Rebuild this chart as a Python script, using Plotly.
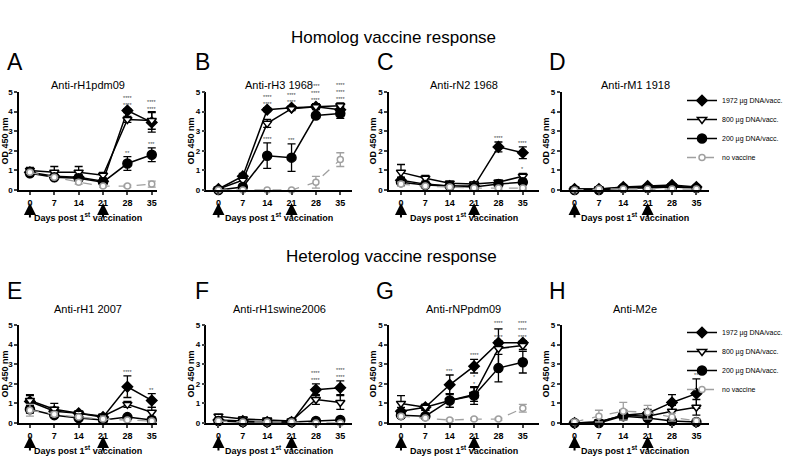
import plotly.graph_objects as go

days = [0, 7, 14, 21, 28, 35]
groups = ['1972 µg DNA/vacc.', '800 µg DNA/vacc.', '200 µg DNA/vacc.', 'no vaccine']
letters = ['A', 'B', 'C', 'D', 'E', 'F', 'G', 'H']
titles = ['Anti-rH1pdm09', 'Anti-rH3 1968', 'Anti-rN2 1968', 'Anti-rM1 1918',
          'Anti-rH1 2007', 'Anti-rH1swine2006', 'Anti-rNPpdm09', 'Anti-M2e']

# mean OD per group: 1972, 800, 200, no vaccine
rh1pdm09 = [[0.9, 0.7, 0.65, 0.45, 4.05, 3.45],
            [1.0, 0.9, 0.9, 0.75, 3.6, 3.55],
            [0.85, 0.65, 0.6, 0.4, 1.35, 1.8],
            [0.9, 0.65, 0.4, 0.2, 0.2, 0.3]]
rh1pdm09_err = [[0.15, 0.1, 0.15, 0.15, 0.1, 0.5],
                [0.15, 0.3, 0.3, 0.15, 0.15, 0.45],
                [0.15, 0.1, 0.15, 0.1, 0.35, 0.35],
                [0.05, 0.05, 0.1, 0.05, 0.05, 0.15]]

rh3 = [[0.05, 0.7, 4.1, 4.2, 4.25, 4.1],
       [0.05, 0.5, 3.4, 4.15, 4.25, 4.3],
       [0.0, 0.15, 1.75, 1.65, 3.8, 3.9],
       [0.0, 0.0, 0.0, 0.0, 0.4, 1.55]]
rh3_err = [[0.02, 0.15, 0.1, 0.1, 0.1, 0.15],
           [0.02, 0.2, 0.2, 0.1, 0.15, 0.15],
           [0.02, 0.1, 0.65, 0.7, 0.15, 0.25],
           [0.0, 0.0, 0.0, 0.0, 0.3, 0.35]]

rn2 = [[0.5, 0.3, 0.2, 0.2, 2.2, 1.9],
       [0.9, 0.6, 0.35, 0.3, 0.4, 0.7],
       [0.4, 0.25, 0.2, 0.15, 0.3, 0.4],
       [0.3, 0.2, 0.15, 0.1, 0.1, 0.1]]
rn2_err = [[0.15, 0.1, 0.05, 0.05, 0.25, 0.3],
           [0.4, 0.15, 0.1, 0.1, 0.1, 0.15],
           [0.15, 0.05, 0.05, 0.05, 0.1, 0.1],
           [0.1, 0.05, 0.05, 0.05, 0.05, 0.05]]

rm1 = [[0.05, 0.05, 0.15, 0.2, 0.25, 0.15],
       [0.05, 0.05, 0.1, 0.15, 0.2, 0.1],
       [0.0, 0.0, 0.1, 0.1, 0.15, 0.1],
       [0.0, 0.05, 0.05, 0.05, 0.05, 0.05]]
rm1_err = [[0.03, 0.03, 0.05, 0.05, 0.05, 0.05],
           [0.03, 0.03, 0.05, 0.05, 0.05, 0.05],
           [0.02, 0.02, 0.05, 0.05, 0.05, 0.05],
           [0.02, 0.02, 0.02, 0.02, 0.02, 0.02]]

rh1_2007 = [[1.1, 0.6, 0.5, 0.3, 1.85, 1.15],
            [1.15, 0.7, 0.5, 0.35, 0.95, 0.55],
            [0.7, 0.4, 0.25, 0.15, 0.3, 0.15],
            [0.65, 0.45, 0.3, 0.2, 0.15, 0.1]]
rh1_2007_err = [[0.3, 0.2, 0.1, 0.05, 0.55, 0.35],
                [0.3, 0.3, 0.1, 0.1, 0.15, 0.25],
                [0.2, 0.1, 0.05, 0.05, 0.05, 0.05],
                [0.3, 0.1, 0.05, 0.05, 0.05, 0.05]]

rh1swine = [[0.15, 0.1, 0.05, 0.05, 1.7, 1.8],
            [0.35, 0.2, 0.15, 0.1, 1.2, 1.05],
            [0.1, 0.05, 0.05, 0.05, 0.1, 0.15],
            [0.1, 0.05, 0.05, 0.05, 0.0, 0.0]]
rh1swine_err = [[0.05, 0.05, 0.02, 0.02, 0.3, 0.35],
                [0.1, 0.1, 0.05, 0.05, 0.25, 0.35],
                [0.05, 0.02, 0.02, 0.02, 0.05, 0.05],
                [0.02, 0.02, 0.02, 0.02, 0.02, 0.02]]

rnp = [[0.6, 0.8, 1.95, 2.9, 4.1, 4.1],
       [1.0, 0.8, 1.15, 1.45, 3.8, 3.95],
       [0.4, 0.35, 1.15, 1.4, 2.8, 3.1],
       [0.35, 0.25, 0.15, 0.2, 0.2, 0.75]]
rnp_err = [[0.2, 0.15, 0.5, 0.35, 0.1, 0.1],
           [0.4, 0.15, 0.35, 0.35, 1.0, 0.2],
           [0.15, 0.1, 0.35, 0.45, 0.7, 0.55],
           [0.05, 0.05, 0.05, 0.05, 0.05, 0.2]]

m2e = [[0.0, 0.05, 0.4, 0.5, 1.05, 1.5],
       [0.0, 0.05, 0.4, 0.35, 0.6, 0.8],
       [0.0, 0.0, 0.35, 0.25, 0.1, 0.05],
       [0.05, 0.35, 0.6, 0.55, 0.3, 0.1]]
m2e_err = [[0.02, 0.05, 0.2, 0.2, 0.4, 0.75],
           [0.02, 0.05, 0.25, 0.15, 0.3, 0.4],
           [0.02, 0.02, 0.15, 0.1, 0.05, 0.05],
           [0.1, 0.3, 0.45, 0.35, 0.2, 0.1]]

means = [rh1pdm09, rh3, rn2, rm1, rh1_2007, rh1swine, rnp, m2e]
errs = [rh1pdm09_err, rh3_err, rn2_err, rm1_err, rh1_2007_err, rh1swine_err, rnp_err, m2e_err]

# significance marks: (group index, day, text)
stars = [
    [(0, 28, '****<br>****'), (0, 35, '****<br>****'), (2, 28, '**'), (2, 35, '***')],
    [(0, 14, '****<br>****'), (0, 21, '****<br>****'), (1, 28, '****<br>****<br>****'),
     (1, 35, '****<br>****<br>****'), (2, 14, '****'), (2, 21, '***')],
    [(0, 28, '****'), (0, 35, '****'), (1, 35, '*')],
    [],
    [(0, 28, '****'), (1, 28, '*'), (0, 35, '**')],
    [(0, 28, '****<br>****'), (0, 35, '****<br>****')],
    [(0, 14, '***'), (0, 21, '****'), (1, 21, '*<br>*'), (0, 28, '****<br>****<br>****'),
     (0, 35, '****<br>****<br>****')],
    [(0, 35, '**')],
]

FONT = 'Liberation Sans'
W, H = 788, 465
K = 3.49  # px per day

# (axis left px, axis right px, day-0 px)
cols = [(19, 157, 30), (207, 353, 219), (390, 540, 402), (563, 711, 576)]
# (y=0 px, y=5 px, subplot title px, letter px)
rows = [(190, 92, 77, 62), (423, 325, 301, 291)]

styles = [
    dict(symbol='diamond', size=8, color='black', fill='black', dash='solid', lw=1.5),
    dict(symbol='triangle-down', size=8, color='black', fill='white', dash='solid', lw=1.5),
    dict(symbol='circle', size=9, color='black', fill='black', dash='solid', lw=1.5),
    dict(symbol='circle', size=6, color='#a0a0a0', fill='white', dash='dash', lw=1.3),
]

fig = go.Figure()
annotations = []

for p in range(8):
    r, c = divmod(p, 4)
    left, right, x0 = cols[c]
    y0px, y5px, title_px, letter_px = rows[r]
    n = p + 1
    xa = 'xaxis' if n == 1 else f'xaxis{n}'
    ya = 'yaxis' if n == 1 else f'yaxis{n}'
    xr = 'x' if n == 1 else f'x{n}'
    yr = 'y' if n == 1 else f'y{n}'

    for g in range(4):
        s = styles[g]
        fig.add_trace(go.Scatter(
            x=days, y=means[p][g], name=groups[g], mode='lines+markers',
            xaxis=xr, yaxis=yr, cliponaxis=False,
            line=dict(color=s['color'], width=s['lw'], dash=s['dash']),
            marker=dict(symbol=s['symbol'], size=s['size'], color=s['fill'],
                        line=dict(color=s['color'], width=1.5)),
            error_y=dict(type='data', array=errs[p][g], color=s['color'],
                         thickness=1.3, width=4),
            showlegend=(c == 3), legend='legend' if r == 0 else 'legend2',
        ))

    fig.layout[xa] = dict(
        domain=[left / W, right / W], anchor=yr, automargin=False,
        range=[(left - x0) / K, (right - x0) / K],
        tickvals=days, ticks='outside', ticklen=3, tickwidth=1.5,
        showline=True, linecolor='black', linewidth=1.5, showgrid=False, zeroline=False,
        tickfont=dict(family=FONT, size=9, color='black', weight='bold'))
    fig.layout[ya] = dict(
        domain=[1 - y0px / H, 1 - y5px / H], anchor=xr, automargin=False,
        range=[0, 5], tickvals=[0, 1, 2, 3, 4, 5],
        ticks='outside', ticklen=3, tickwidth=1.5,
        showline=True, linecolor='black', linewidth=1.5, showgrid=False, zeroline=False,
        tickfont=dict(family=FONT, size=8, color='black', weight='bold'),
        title=dict(text='OD 450 nm', standoff=0,
                   font=dict(family=FONT, size=9, color='black', weight='bold')))

    plot_h = y0px - y5px
    # vaccination arrows
    for d in [0, 21]:
        annotations.append(dict(
            x=d, y=-13 / plot_h, xref=xr, yref=f'{yr} domain', text='',
            showarrow=True, ax=0, ay=16, arrowhead=2, arrowsize=1.2,
            arrowwidth=2, arrowcolor='black'))
    annotations.append(dict(
        x=0.5, y=-35 / plot_h, xref=f'{xr} domain', yref=f'{yr} domain',
        text='Days post 1<sup>st</sup> vaccination', showarrow=False,
        font=dict(family=FONT, size=9, color='black', weight='bold')))
    annotations.append(dict(
        x=0.5, y=(y0px - title_px) / plot_h, xref=f'{xr} domain',
        yref=f'{yr} domain', text=titles[p], showarrow=False,
        font=dict(family=FONT, size=11, color='black')))
    annotations.append(dict(
        x=(left - 4) / W, y=1 - letter_px / H, xref='paper', yref='paper',
        text=letters[p], showarrow=False, xanchor='center', yanchor='middle',
        font=dict(family=FONT, size=23, color='black')))
    # significance stars above the error bar
    for g, d, txt in stars[p]:
        i = days.index(d)
        top = means[p][g][i] + errs[p][g][i]
        annotations.append(dict(
            x=d, y=top, xref=xr, yref=yr, text=txt, showarrow=False,
            yanchor='bottom', xanchor='center', borderpad=0,
            font=dict(family=FONT, size=5.5, color='#444444')))

annotations.append(dict(x=394 / W, y=1 - 26 / H, xref='paper', yref='paper',
                        text='Homolog vaccine response', showarrow=False,
                        font=dict(family=FONT, size=17, color='black')))
annotations.append(dict(x=392 / W, y=1 - 256 / H, xref='paper', yref='paper',
                        text='Heterolog vaccine response', showarrow=False,
                        font=dict(family=FONT, size=17, color='black')))

leg_style = dict(font=dict(family=FONT, size=7, color='black'), bgcolor='rgba(0,0,0,0)',
                 xanchor='left', yanchor='middle', tracegroupgap=0, itemwidth=30)
fig.update_layout(
    width=W, height=H, margin=dict(l=0, r=0, t=0, b=0),
    paper_bgcolor='white', plot_bgcolor='white',
    font=dict(family=FONT),
    annotations=annotations,
    legend=dict(x=684 / W, y=1 - 129 / H, **leg_style),
    legend2=dict(x=684 / W, y=1 - 361 / H, **leg_style),
)

fig.write_html('out.html', config={'displayModeBar': False},
               post_script="document.body.style.margin='0';")
